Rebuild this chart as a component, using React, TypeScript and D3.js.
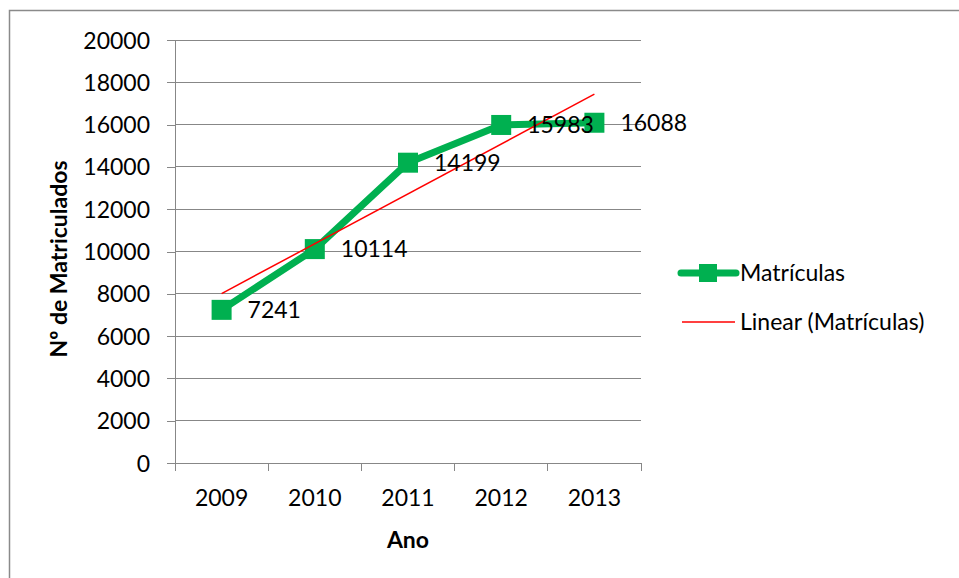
import React, { useEffect, useRef } from "react";
import * as d3 from "d3";

// data
const years = ["2009", "2010", "2011", "2012", "2013"];
const matriculas = [7241, 10114, 14199, 15983, 16088];
const yTicks = [0, 2000, 4000, 6000, 8000, 10000, 12000, 14000, 16000, 18000, 20000];
const seriesName = "Matrículas";
const trendName = "Linear (Matrículas)";

const W = 959;
const H = 578;
const FONT = "Lato, 'Open Sans', sans-serif";
const FS = 23;
const GREEN = "#00B050";
const RED = "#FF0000";
const GRID = "#878787";

function App() {
  const svgRef = useRef<SVGSVGElement>(null);

  useEffect(() => {
    const svg = d3.select(svgRef.current);
    svg.selectAll("*").remove();

    const x = d3.scaleBand<string>().domain(years).range([175, 641]);
    const y = d3.scaleLinear().domain([0, 20000]).range([463, 40]);
    const cx = (d: string) => (x(d) as number) + x.bandwidth() / 2;
    const pts = years.map((d, i) => ({ year: d, value: matriculas[i] }));

    // outer frame (runs off the right/bottom edge)
    svg
      .append("rect")
      .attr("x", 9.5)
      .attr("y", 10.5)
      .attr("width", W)
      .attr("height", H)
      .attr("fill", "none")
      .attr("stroke", "#8a8a8a")
      .attr("stroke-width", 1.5);

    // gridlines
    svg
      .append("g")
      .selectAll("line")
      .data(yTicks.filter(t => t > 0))
      .join("line")
      .attr("x1", 175)
      .attr("x2", 641)
      .attr("y1", d => y(d))
      .attr("y2", d => y(d))
      .attr("stroke", GRID)
      .attr("stroke-width", 1)
      .attr("shape-rendering", "crispEdges");

    // y axis
    const yAxis = svg
      .append("g")
      .attr("transform", "translate(175,0)")
      .call(
        d3
          .axisLeft(y)
          .tickValues(yTicks)
          .tickSize(8)
          .tickSizeOuter(0)
          .tickPadding(17)
          .tickFormat(d3.format("d"))
      );
    yAxis.select(".domain").attr("stroke", GRID).attr("shape-rendering", "crispEdges");
    yAxis.selectAll(".tick line").attr("stroke", GRID).attr("shape-rendering", "crispEdges");
    yAxis
      .selectAll("text")
      .attr("font-size", FS)
      .attr("font-family", FONT)
      .attr("fill", "#000")
      .attr("dy", "0.35em");

    // x axis: labels centred in bands, ticks on band edges
    const xAxis = svg
      .append("g")
      .attr("transform", "translate(0,463)")
      .call(d3.axisBottom(x).tickSize(0).tickSizeOuter(0));
    xAxis.select(".domain").attr("stroke", GRID).attr("shape-rendering", "crispEdges");
    xAxis
      .selectAll("text")
      .attr("y", 35)
      .attr("dy", "0.35em")
      .attr("font-size", FS)
      .attr("font-family", FONT)
      .attr("fill", "#000");
    xAxis
      .selectAll(".edge")
      .data(years.map(d => x(d) as number).concat([x.range()[1]]))
      .join("line")
      .attr("class", "edge")
      .attr("x1", d => d)
      .attr("x2", d => d)
      .attr("y1", 0)
      .attr("y2", 8)
      .attr("stroke", GRID)
      .attr("shape-rendering", "crispEdges");

    // series line + markers
    const line = d3
      .line<{ year: string; value: number }>()
      .x(d => cx(d.year))
      .y(d => y(d.value));
    svg
      .append("path")
      .datum(pts)
      .attr("d", line)
      .attr("fill", "none")
      .attr("stroke", GREEN)
      .attr("stroke-width", 7)
      .attr("stroke-linejoin", "round")
      .attr("stroke-linecap", "round");
    svg
      .append("g")
      .selectAll("rect")
      .data(pts)
      .join("rect")
      .attr("x", d => cx(d.year) - 10)
      .attr("y", d => y(d.value) - 10)
      .attr("width", 20)
      .attr("height", 20)
      .attr("fill", GREEN);

    // linear trendline (least squares over 1..n)
    const n = matriculas.length;
    const xs = matriculas.map((_, i) => i + 1);
    const mx = d3.mean(xs) as number;
    const my = d3.mean(matriculas) as number;
    const slope =
      d3.sum(xs, (xi, i) => (xi - mx) * (matriculas[i] - my)) /
      d3.sum(xs, xi => (xi - mx) ** 2);
    const icpt = my - slope * mx;
    const trend = [1, n].map(xi => ({ year: years[xi - 1], value: icpt + slope * xi }));
    svg
      .append("path")
      .datum(trend)
      .attr("d", line)
      .attr("fill", "none")
      .attr("stroke", RED)
      .attr("stroke-width", 1.5);

    // data labels
    svg
      .append("g")
      .selectAll("text")
      .data(pts)
      .join("text")
      .attr("x", d => cx(d.year) + 26)
      .attr("y", d => y(d.value))
      .attr("dy", "0.35em")
      .attr("font-size", FS)
      .attr("font-family", FONT)
      .text(d => d.value);

    // axis titles
    svg
      .append("text")
      .attr("x", 408)
      .attr("y", 540)
      .attr("dy", "0.35em")
      .attr("text-anchor", "middle")
      .attr("font-size", FS)
      .attr("font-weight", "bold")
      .attr("font-family", FONT)
      .text("Ano");
    svg
      .append("text")
      .attr("transform", "translate(59,259) rotate(-90)")
      .attr("dy", "0.35em")
      .attr("text-anchor", "middle")
      .attr("font-size", FS)
      .attr("font-weight", "bold")
      .attr("font-family", FONT)
      .text("Nº de Matriculados");

    // legend
    const lg = svg.append("g");
    lg.append("line")
      .attr("x1", 681)
      .attr("x2", 736)
      .attr("y1", 273)
      .attr("y2", 273)
      .attr("stroke", GREEN)
      .attr("stroke-width", 7)
      .attr("stroke-linecap", "round");
    lg.append("rect")
      .attr("x", 699)
      .attr("y", 264)
      .attr("width", 18)
      .attr("height", 18)
      .attr("fill", GREEN);
    lg.append("line")
      .attr("x1", 682)
      .attr("x2", 735)
      .attr("y1", 322)
      .attr("y2", 322)
      .attr("stroke", RED)
      .attr("stroke-width", 1.5);
    lg.selectAll("text")
      .data([seriesName, trendName])
      .join("text")
      .attr("x", 740)
      .attr("y", (_, i) => 273 + i * 49)
      .attr("dy", "0.35em")
      .attr("font-size", FS)
      .attr("font-family", FONT)
      .text(d => d);
  }, []);

  return (
    <svg
      ref={svgRef}
      width={W}
      height={H}
      style={{ position: "absolute", left: 0, top: 0, background: "#fff" }}
    />
  );
}

export default App;
